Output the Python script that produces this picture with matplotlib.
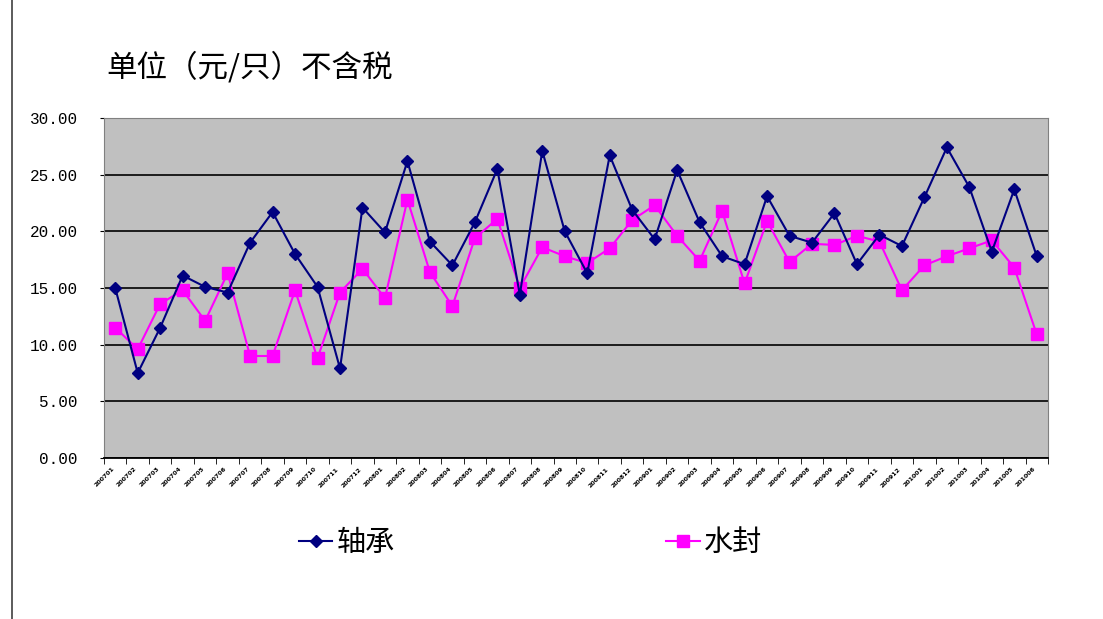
import matplotlib.pyplot as plt
from matplotlib.lines import Line2D
from matplotlib.ticker import MultipleLocator

plt.rcParams['font.family'] = ['Noto Sans CJK SC', 'DejaVu Sans']

# monthly periods 2007-01 .. 2010-06
months = [f"{y}{m:02d}" for y in (2007, 2008, 2009) for m in range(1, 13)]
months += [f"2010{m:02d}" for m in range(1, 7)]

bearing = [15.0, 7.5, 11.5, 16.1, 15.1, 14.6, 19.0, 21.7, 18.0, 15.1, 7.9, 22.1,
           19.9, 26.2, 19.1, 17.0, 20.8, 25.5, 14.4, 27.1, 20.0, 16.3, 26.7, 21.9,
           19.3, 25.4, 20.8, 17.8, 17.1, 23.1, 19.6, 19.0, 21.6, 17.1, 19.7, 18.7,
           23.0, 27.4, 23.9, 18.2, 23.7, 17.8]
seal = [11.5, 9.6, 13.6, 14.8, 12.1, 16.3, 9.0, 9.0, 14.8, 8.8, 14.6, 16.7,
        14.1, 22.8, 16.4, 13.4, 19.4, 21.1, 15.0, 18.6, 17.8, 17.2, 18.5, 21.0,
        22.3, 19.6, 17.4, 21.8, 15.4, 20.9, 17.3, 18.9, 18.8, 19.6, 19.1, 14.8,
        17.0, 17.8, 18.5, 19.2, 16.8, 10.9]

fig = plt.figure(figsize=(11.03, 6.19), dpi=100)
ax = fig.add_axes([104 / 1103, 1 - 458 / 619, 944 / 1103, 340 / 619])
ax.set_facecolor('#C0C0C0')

x = list(range(len(months)))
ax.plot(x, bearing, color='#000080', lw=1.5, marker='D', markersize=6.5, zorder=3)
ax.plot(x, seal, color='#FF00FF', lw=1.5, marker='s', markersize=8, zorder=2)

ax.set_xlim(-0.5, len(months) - 0.5)
ax.set_ylim(0, 30)
ax.yaxis.set_major_locator(MultipleLocator(5))
ax.set_yticklabels([f"{v:.2f}" for v in ax.get_yticks()], family='Liberation Mono', fontsize=11.5)
ax.tick_params(axis='y', length=3, pad=16, colors='black')
ax.grid(axis='y', color='black', lw=1.2)
ax.set_axisbelow(True)

ax.set_xticks(x)
ax.set_xticklabels(months, rotation=45, ha='right', va='top', fontsize=4.5,
                   fontweight='bold', family='DejaVu Sans')
ax.set_xticks([i - 0.5 for i in range(len(months) + 1)], minor=True)
ax.tick_params(axis='x', which='major', length=0, pad=6)
ax.tick_params(axis='x', which='minor', length=4, direction='out')

for side in ('top', 'right', 'left'):
    ax.spines[side].set_color('#808080')
ax.spines['bottom'].set_color('black')
ax.spines['bottom'].set_linewidth(1.3)

fig.text(106 / 1103, 1 - 68 / 619, '单位（元/只）不含税', fontsize=22, va='center', ha='left')

handles = [Line2D([], [], color='#000080', lw=1.5, marker='D', markersize=6),
           Line2D([], [], color='#FF00FF', lw=1.5, marker='s', markersize=8)]
fig.legend(handles, ['轴承', '水封'], loc='center', bbox_to_anchor=(0.481, 0.123),
           ncol=2, frameon=False, fontsize=21, handlelength=1.15, handletextpad=0.15,
           columnspacing=9.3)

# page border on the left
fig.add_artist(Line2D([12 / 1103, 12 / 1103], [0, 1], color='#404040', lw=1.2))

fig.savefig('out.png', dpi=100)
